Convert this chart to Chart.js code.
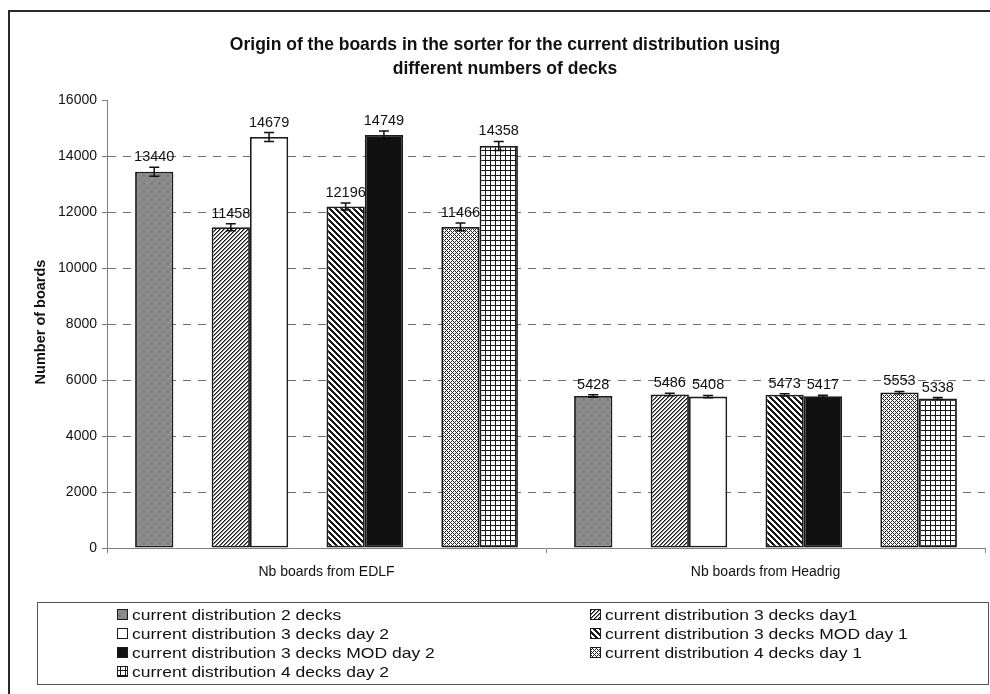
<!DOCTYPE html>
<html>
<head>
<meta charset="utf-8">
<script src="https://cdn.jsdelivr.net/npm/chart.js@4.4.0/dist/chart.umd.min.js"></script>
<style>
  html, body { margin: 0; padding: 0; background: #fff; }
  #wrap { width: 990px; height: 694px; }
</style>
</head>
<body>
<div id="wrap"><canvas id="c" width="990" height="694"></canvas></div>
<script>
// ---- data ----
const categories = ['Nb boards from EDLF', 'Nb boards from Headrig'];
const seriesLabels = [
  'current distribution 2 decks',
  'current distribution 3 decks day1',
  'current distribution 3 decks day 2',
  'current distribution 3 decks MOD day 1',
  'current distribution 3 decks MOD day 2',
  'current distribution 4 decks day 1',
  'current distribution 4 decks day 2'
];
const twoDecks      = [13440, 5428];
const threeDay1     = [11458, 5486];
const threeDay2     = [14679, 5408];
const threeModDay1  = [12196, 5473];
const threeModDay2  = [14749, 5417];
const fourDay1      = [11466, 5553];
const fourDay2      = [14358, 5338];
// error bar half-ranges
const errTwoDecks     = [160, 45];
const errThreeDay1    = [125, 45];
const errThreeDay2    = [160, 40];
const errThreeModDay1 = [125, 40];
const errThreeModDay2 = [140, 35];
const errFourDay1     = [140, 40];
const errFourDay2     = [160, 35];
const yTicks = [0, 2000, 4000, 6000, 8000, 10000, 12000, 14000, 16000];

const FONT = "'Liberation Sans', Arial, sans-serif";

// ---- fill patterns ----
function tile(size, pixel) {
  const cv = document.createElement('canvas');
  cv.width = size; cv.height = size;
  const cx = cv.getContext('2d');
  const img = cx.createImageData(size, size);
  for (let y = 0; y < size; y++) {
    for (let x = 0; x < size; x++) {
      const v = pixel(x, y);
      const i = (y * size + x) * 4;
      img.data[i] = v; img.data[i + 1] = v; img.data[i + 2] = v; img.data[i + 3] = 255;
    }
  }
  cx.putImageData(img, 0, 0);
  return cx.createPattern(cv, 'repeat');
}
const mod = (a, n) => ((a % n) + n) % n;
const patGray    = tile(8, (x, y) => { const k = mod(x * 5 + y * 3 + x * y, 7); return k === 0 ? 115 : (k === 3 ? 155 : 138); });
const patSlash   = tile(4, (x, y) => { const k = mod(x + y, 4); return k === 0 ? 20 : (k === 1 ? 120 : 255); });
const patBack    = tile(6, (x, y) => (mod(x - y, 6) < 3 ? 25 : 255));
const patDiamond = tile(4, (x, y) => (mod(x + y, 4) === 0 || mod(x - y, 4) === 0 ? 30 : 255));
const patGrid    = tile(5, (x, y) => (x === 0 || y === 0 ? 25 : 255));

const series = [
  { data: twoDecks,     err: errTwoDecks,     fill: patGray },
  { data: threeDay1,    err: errThreeDay1,    fill: patSlash },
  { data: threeDay2,    err: errThreeDay2,    fill: '#ffffff' },
  { data: threeModDay1, err: errThreeModDay1, fill: patBack },
  { data: threeModDay2, err: errThreeModDay2, fill: '#111111' },
  { data: fourDay1,     err: errFourDay1,     fill: patDiamond },
  { data: fourDay2,     err: errFourDay2,     fill: patGrid }
];
// slot order within each category; -1 marks an empty slot
const slotOrder = [0, -1, 1, 2, -1, 3, 4, -1, 5, 6];

const datasets = slotOrder.map(idx => {
  if (idx < 0) {
    return { label: '', data: categories.map(() => null), spacer: true, backgroundColor: 'rgba(0,0,0,0)', borderWidth: 0 };
  }
  const s = series[idx];
  return {
    label: seriesLabels[idx],
    data: s.data,
    err: s.err,
    seriesIndex: idx,
    backgroundColor: s.fill,
    borderColor: '#1a1a1a',
    borderWidth: 1.8,
    borderSkipped: false
  };
});

// ---- drawing helpers ----
function stretchedText(ctx, text, x, y, font, align, sx) {
  ctx.save();
  ctx.translate(x, y);
  ctx.scale(sx, 1);
  ctx.font = font;
  ctx.textAlign = align;
  ctx.fillText(text, 0, 0);
  ctx.restore();
}

const decorations = {
  id: 'decorations',
  beforeDraw(chart) {
    const ctx = chart.ctx;
    ctx.save();
    ctx.fillStyle = '#fff';
    ctx.fillRect(0, 0, chart.width, chart.height);
    ctx.restore();
  },
  afterDatasetsDraw(chart) {
    const ctx = chart.ctx;
    const yScale = chart.scales.y;
    chart.data.datasets.forEach((ds, di) => {
      if (ds.spacer) return;
      const meta = chart.getDatasetMeta(di);
      meta.data.forEach((bar, i) => {
        const v = ds.data[i], e = ds.err[i];
        const yt = yScale.getPixelForValue(v + e);
        const yb = yScale.getPixelForValue(v - e);
        ctx.save();
        ctx.strokeStyle = '#111';
        ctx.lineWidth = 1.5;
        ctx.beginPath();
        ctx.moveTo(bar.x, yt); ctx.lineTo(bar.x, yb);
        ctx.moveTo(bar.x - 5, yt); ctx.lineTo(bar.x + 5, yt);
        ctx.moveTo(bar.x - 5, yb); ctx.lineTo(bar.x + 5, yb);
        ctx.stroke();
        ctx.fillStyle = '#111';
        ctx.textBaseline = 'alphabetic';
        stretchedText(ctx, String(v), bar.x, yt - 6, `14.5px ${FONT}`, 'center', 1.0);
        ctx.restore();
      });
    });
  },
  afterDraw(chart) {
    const ctx = chart.ctx;
    ctx.save();
    // outer frame
    ctx.strokeStyle = '#2a2a2a';
    ctx.lineWidth = 2;
    ctx.strokeRect(9, 11, 1000, 700);

    // title
    ctx.fillStyle = '#111';
    ctx.textBaseline = 'middle';
    stretchedText(ctx, 'Origin of the boards in the sorter for the current distribution using', 505, 45, `bold 17.5px ${FONT}`, 'center', 1.0);
    stretchedText(ctx, 'different numbers of decks', 505, 69, `bold 17.5px ${FONT}`, 'center', 1.0);

    // y axis title
    ctx.save();
    ctx.translate(41, 322);
    ctx.rotate(-Math.PI / 2);
    ctx.font = `bold 14.5px ${FONT}`;
    ctx.textAlign = 'center';
    ctx.textBaseline = 'middle';
    ctx.fillText('Number of boards', 0, 0);
    ctx.restore();

    // legend
    ctx.strokeStyle = '#555';
    ctx.lineWidth = 1;
    ctx.strokeRect(37.5, 602.5, 951, 82);
    const colX = [117, 590];
    const rowY = [615, 634, 653, 672];
    seriesLabels.forEach((lab, k) => {
      const col = k % 2, row = Math.floor(k / 2);
      const x = colX[col], y = rowY[row];
      ctx.fillStyle = series[k].fill;
      ctx.fillRect(x, y - 6, 11, 11);
      ctx.strokeStyle = '#1a1a1a';
      ctx.lineWidth = 1;
      ctx.strokeRect(x + 0.5, y - 5.5, 10, 10);
      ctx.fillStyle = '#111';
      ctx.textBaseline = 'middle';
      stretchedText(ctx, lab, x + 15, y + 1, `15.5px ${FONT}`, 'left', 1.13);
    });
    ctx.restore();
  }
};

new Chart(document.getElementById('c'), {
  type: 'bar',
  data: { labels: categories, datasets },
  options: {
    responsive: false,
    animation: false,
    devicePixelRatio: 1,
    layout: { padding: { left: 0, top: 100, right: 5, bottom: 100 } },
    datasets: { bar: { barPercentage: 1.0, categoryPercentage: 0.872 } },
    plugins: { legend: { display: false }, title: { display: false }, tooltip: { enabled: false } },
    scales: {
      x: {
        type: 'category',
        offset: true,
        grid: { offset: true, drawOnChartArea: false, drawTicks: true, tickLength: 5, color: '#808080', tickColor: '#808080' },
        border: { display: true, color: '#808080', width: 1 },
        ticks: { font: { family: FONT, size: 14 }, color: '#111', padding: 11, maxRotation: 0, autoSkip: false },
        afterFit(s) { s.height = 46; }
      },
      y: {
        min: yTicks[0],
        max: yTicks[yTicks.length - 1],
        afterBuildTicks(s) { s.ticks = yTicks.map(v => ({ value: v })); },
        ticks: { font: { family: FONT, size: 14 }, color: '#111', padding: 5, callback: v => String(v) },
        grid: {
          color: c => (c.tick && (c.tick.value === 0 || c.tick.value === 16000)) ? 'rgba(0,0,0,0)' : '#707070',
          lineWidth: 1,
          drawTicks: true,
          tickLength: 5,
          tickColor: '#808080',
          tickBorderDash: []
        },
        border: { display: true, color: '#808080', width: 1, dash: [8, 7] },
        afterFit(s) { s.width = 107; }
      }
    }
  },
  plugins: [decorations]
});
</script>
</body>
</html>
